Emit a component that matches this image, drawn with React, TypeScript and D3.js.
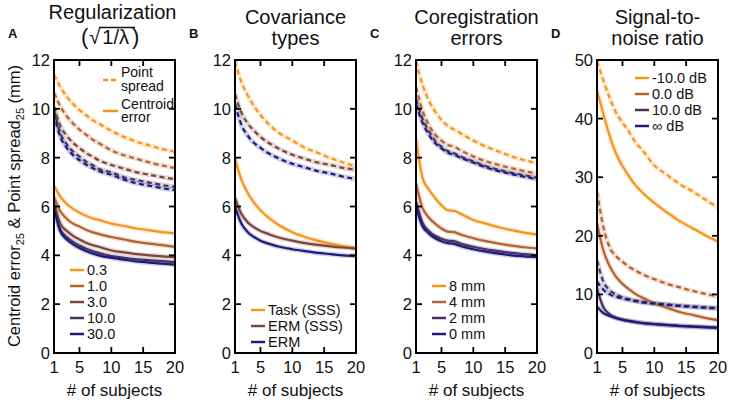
import React from "react";
import * as d3 from "d3";

// number of subjects (x positions of the readings)
const N = [1, 2, 3, 4, 5, 6, 7, 8, 10, 12, 14, 16, 18, 20];
const X_TICKS = [1, 5, 10, 15, 20];

// Panel A: Regularization
const regLabels = ["0.3", "1.0", "3.0", "10.0", "30.0"];
const regPS_03 = [11.4, 10.9, 10.5, 10.2, 9.95, 9.75, 9.55, 9.4, 9.1, 8.85, 8.65, 8.5, 8.35, 8.25];
const regPS_1 = [10.65, 10.1, 9.7, 9.4, 9.15, 8.95, 8.75, 8.6, 8.3, 8.1, 7.95, 7.8, 7.68, 7.58];
const regPS_3 = [10.1, 9.3, 8.9, 8.6, 8.4, 8.2, 8.05, 7.9, 7.7, 7.55, 7.4, 7.3, 7.2, 7.12];
const regPS_10 = [9.95, 9.0, 8.55, 8.25, 8.05, 7.85, 7.7, 7.55, 7.4, 7.2, 7.08, 6.98, 6.88, 6.8];
const regPS_30 = [9.8, 8.85, 8.4, 8.1, 7.9, 7.72, 7.58, 7.45, 7.3, 7.1, 6.95, 6.85, 6.75, 6.67];
const regCE_03 = [6.85, 6.4, 6.1, 5.9, 5.75, 5.62, 5.52, 5.45, 5.3, 5.2, 5.1, 5.02, 4.95, 4.9];
const regCE_1 = [6.4, 5.8, 5.5, 5.3, 5.18, 5.05, 4.95, 4.88, 4.75, 4.65, 4.55, 4.48, 4.42, 4.35];
const regCE_3 = [6.15, 5.3, 5.0, 4.8, 4.65, 4.52, 4.42, 4.35, 4.2, 4.12, 4.05, 4.0, 3.96, 3.93];
const regCE_10 = [6.0, 5.05, 4.75, 4.55, 4.4, 4.28, 4.18, 4.1, 3.97, 3.9, 3.84, 3.8, 3.76, 3.72];
const regCE_30 = [5.95, 4.98, 4.65, 4.45, 4.3, 4.18, 4.08, 4.0, 3.9, 3.82, 3.75, 3.7, 3.66, 3.62];

// Panel B: Covariance types
const covLabels = ["Task (SSS)", "ERM (SSS)", "ERM"];
const covPS_task = [11.95, 11.1, 10.55, 10.1, 9.75, 9.45, 9.2, 9.0, 8.7, 8.4, 8.2, 7.98, 7.8, 7.65];
const covPS_ermsss = [10.6, 9.85, 9.4, 9.1, 8.85, 8.65, 8.5, 8.35, 8.12, 7.95, 7.8, 7.7, 7.58, 7.5];
const covPS_erm = [10.2, 9.35, 8.9, 8.6, 8.4, 8.22, 8.08, 7.95, 7.75, 7.6, 7.45, 7.35, 7.22, 7.12];
const covCE_task = [7.95, 7.1, 6.55, 6.15, 5.85, 5.6, 5.4, 5.22, 4.95, 4.75, 4.6, 4.48, 4.38, 4.3];
const covCE_ermsss = [6.35, 5.7, 5.35, 5.15, 5.0, 4.9, 4.8, 4.72, 4.6, 4.5, 4.43, 4.37, 4.32, 4.28];
const covCE_erm = [6.0, 5.3, 4.95, 4.75, 4.6, 4.5, 4.42, 4.35, 4.25, 4.17, 4.1, 4.05, 4.0, 3.97];

// Panel C: Coregistration errors
const coregLabels = ["8 mm", "4 mm", "2 mm", "0 mm"];
const coregPS_8 = [11.95, 11.0, 10.35, 9.9, 9.55, 9.3, 9.15, 9.0, 8.7, 8.45, 8.25, 8.05, 7.9, 7.78];
const coregPS_4 = [10.9, 9.95, 9.35, 8.95, 8.7, 8.52, 8.45, 8.3, 8.05, 7.85, 7.7, 7.57, 7.45, 7.35];
const coregPS_2 = [10.4, 9.6, 9.1, 8.7, 8.45, 8.27, 8.18, 8.05, 7.85, 7.65, 7.5, 7.38, 7.28, 7.18];
const coregPS_0 = [10.2, 9.45, 8.95, 8.6, 8.38, 8.2, 8.12, 8.0, 7.8, 7.6, 7.45, 7.33, 7.22, 7.12];
const coregCE_8 = [8.8, 7.2, 6.7, 6.35, 6.05, 5.85, 5.82, 5.7, 5.45, 5.3, 5.15, 5.03, 4.93, 4.85];
const coregCE_4 = [6.95, 5.95, 5.55, 5.3, 5.1, 4.97, 4.95, 4.85, 4.7, 4.58, 4.48, 4.4, 4.33, 4.28];
const coregCE_2 = [6.2, 5.35, 5.0, 4.8, 4.68, 4.6, 4.58, 4.48, 4.35, 4.25, 4.17, 4.1, 4.05, 4.0];
const coregCE_0 = [6.0, 5.2, 4.9, 4.7, 4.58, 4.5, 4.47, 4.38, 4.25, 4.15, 4.07, 4.0, 3.96, 3.93];

// Panel D: Signal-to-noise ratio
const snrLabels = ["-10.0 dB", "0.0 dB", "10.0 dB", "\u221e dB"];
const snrPS_m10 = [49.8, 46.5, 43.5, 41.0, 39.3, 37.8, 36.0, 34.8, 32.0, 30.4, 28.8, 27.6, 26.2, 24.8];
const snrPS_0 = [27.5, 21.5, 18.0, 16.5, 15.6, 14.7, 14.1, 13.5, 12.6, 11.8, 11.2, 10.6, 10.1, 9.6];
const snrPS_10 = [15.8, 12.2, 10.7, 10.0, 9.5, 9.2, 8.95, 8.75, 8.5, 8.3, 8.1, 7.95, 7.8, 7.7];
const snrPS_inf = [12.2, 10.8, 10.0, 9.6, 9.3, 9.05, 8.85, 8.65, 8.4, 8.2, 8.0, 7.85, 7.72, 7.6];
const snrCE_m10 = [44.8, 40.8, 37.0, 34.0, 31.9, 30.2, 28.7, 27.5, 25.6, 24.0, 22.5, 21.3, 20.1, 19.0];
const snrCE_0 = [22.2, 17.5, 14.8, 13.0, 11.8, 10.9, 10.1, 9.5, 8.5, 7.7, 7.0, 6.5, 6.0, 5.6];
const snrCE_10 = [11.0, 7.8, 6.6, 6.0, 5.7, 5.5, 5.3, 5.15, 4.95, 4.8, 4.65, 4.55, 4.45, 4.35];
const snrCE_inf = [7.9, 6.8, 6.3, 5.95, 5.65, 5.45, 5.28, 5.12, 4.92, 4.75, 4.6, 4.48, 4.38, 4.28];

const ORANGE = "#f7941e";
const RUST = "#b5622d";
const BROWN = "#7b4639";
const PURPLE = "#4d2f5e";
const NAVY = "#1b1a7e";

const FONT = "'Liberation Sans', Arial, Helvetica, sans-serif";
const TOP = 60;
const BOT = 353;
const PW = 121;

type Series = { color: string; ps: number[]; ce: number[] };
type PanelDef = {
  left: number;
  letter: string;
  title: string[];
  yMax: number;
  yTicks: number[];
  series: Series[];
  labels: string[];
  legendX: number;
  legendY: number;
};

const panels: PanelDef[] = [
  {
    left: 54, letter: "A", title: ["Regularization"], yMax: 12, yTicks: [0, 2, 4, 6, 8, 10, 12],
    series: [
      { color: ORANGE, ps: regPS_03, ce: regCE_03 },
      { color: RUST, ps: regPS_1, ce: regCE_1 },
      { color: BROWN, ps: regPS_3, ce: regCE_3 },
      { color: PURPLE, ps: regPS_10, ce: regCE_10 },
      { color: NAVY, ps: regPS_30, ce: regCE_30 },
    ],
    labels: regLabels, legendX: 70, legendY: 270,
  },
  {
    left: 235, letter: "B", title: ["Covariance", "types"], yMax: 12, yTicks: [0, 2, 4, 6, 8, 10, 12],
    series: [
      { color: ORANGE, ps: covPS_task, ce: covCE_task },
      { color: BROWN, ps: covPS_ermsss, ce: covCE_ermsss },
      { color: NAVY, ps: covPS_erm, ce: covCE_erm },
    ],
    labels: covLabels, legendX: 251, legendY: 310,
  },
  {
    left: 416, letter: "C", title: ["Coregistration", "errors"], yMax: 12, yTicks: [0, 2, 4, 6, 8, 10, 12],
    series: [
      { color: ORANGE, ps: coregPS_8, ce: coregCE_8 },
      { color: RUST, ps: coregPS_4, ce: coregCE_4 },
      { color: PURPLE, ps: coregPS_2, ce: coregCE_2 },
      { color: NAVY, ps: coregPS_0, ce: coregCE_0 },
    ],
    labels: coregLabels, legendX: 432, legendY: 286,
  },
  {
    left: 597, letter: "D", title: ["Signal-to-", "noise ratio"], yMax: 50, yTicks: [0, 10, 20, 30, 40, 50],
    series: [
      { color: ORANGE, ps: snrPS_m10, ce: snrCE_m10 },
      { color: RUST, ps: snrPS_0, ce: snrCE_0 },
      { color: PURPLE, ps: snrPS_10, ce: snrCE_10 },
      { color: NAVY, ps: snrPS_inf, ce: snrCE_inf },
    ],
    labels: snrLabels, legendX: 635, legendY: 78,
  },
];

function Panel({ p, idx }: { p: PanelDef; idx: number }) {
  const x = d3.scaleLinear().domain([1, 20]).range([p.left, p.left + PW]);
  const y = d3.scaleLinear().domain([0, p.yMax]).range([BOT, TOP]);
  const line = d3
    .line<number>()
    .x((_, i) => x(N[i]))
    .y((v) => y(v))
    .curve(d3.curveMonotoneX);
  const clipId = `clip${idx}`;
  const right = p.left + PW;
  const cx = p.left + PW / 2;
  const tl = 6;
  return (
    <g>
      <defs>
        <clipPath id={clipId}>
          <rect x={p.left} y={TOP} width={PW} height={BOT - TOP} />
        </clipPath>
      </defs>
      {/* title */}
      {idx === 0 ? (
        <g fontFamily={FONT} fontSize={20} fill="#111">
          <text x={cx - 2} y={19} textAnchor="middle">Regularization</text>
          <text x={81} y={44}>
            <tspan fontSize={22}>(</tspan>
            <tspan dx={1}>√</tspan>
            <tspan dx={2}>1/λ</tspan>
            <tspan dx={3} fontSize={22}>)</tspan>
          </text>
          <line x1={99} x2={135} y1={27.5} y2={27.5} stroke="#111" strokeWidth={1.3} />
        </g>
      ) : (
        <g fontFamily={FONT} fontSize={20} fill="#111" textAnchor="middle">
          <text x={cx} y={24}>{p.title[0]}</text>
          <text x={cx} y={45}>{p.title[1]}</text>
        </g>
      )}
      <text x={p.left - 46} y={38} fontFamily={FONT} fontWeight="bold" fontSize={13} fill="#111">
        {p.letter}
      </text>
      {/* series */}
      <g clipPath={`url(#${clipId})`} fill="none">
        {p.series.map((s, i) => (
          <g key={"b" + i}>
            <path d={line(s.ps) || ""} stroke={s.color} strokeOpacity={0.2} strokeWidth={5} />
            <path d={line(s.ce) || ""} stroke={s.color} strokeOpacity={0.2} strokeWidth={5} />
          </g>
        ))}
        {p.series.map((s, i) => (
          <g key={"l" + i}>
            <path d={line(s.ps) || ""} stroke={s.color} strokeWidth={2.2} strokeDasharray="5,3.5" />
            <path d={line(s.ce) || ""} stroke={s.color} strokeWidth={2.2} />
          </g>
        ))}
      </g>
      {/* frame */}
      <rect x={p.left} y={TOP} width={PW} height={BOT - TOP} fill="none" stroke="#000" strokeWidth={2} />
      {/* y ticks */}
      {p.yTicks.map((t) => (
        <g key={"y" + t}>
          <line x1={p.left} x2={p.left + tl} y1={y(t)} y2={y(t)} stroke="#000" strokeWidth={1.8} />
          <line x1={right - tl} x2={right} y1={y(t)} y2={y(t)} stroke="#000" strokeWidth={1.8} />
          <text x={p.left - 4} y={y(t) + 6} textAnchor="end" fontFamily={FONT} fontSize={16.5} fill="#111">
            {t}
          </text>
        </g>
      ))}
      {/* x ticks */}
      {X_TICKS.map((t) => (
        <g key={"x" + t}>
          <line x1={x(t)} x2={x(t)} y1={BOT} y2={BOT - tl} stroke="#000" strokeWidth={1.8} />
          <line x1={x(t)} x2={x(t)} y1={TOP} y2={TOP + tl} stroke="#000" strokeWidth={1.8} />
          <text x={x(t)} y={373} textAnchor="middle" fontFamily={FONT} fontSize={16.5} fill="#111">
            {t}
          </text>
        </g>
      ))}
      <text x={cx} y={396} textAnchor="middle" fontFamily={FONT} fontSize={17} fill="#111">
        # of subjects
      </text>
      {/* legend */}
      <g fontFamily={FONT} fontSize={14.5} fill="#111">
        {p.labels.map((lab, i) => {
          const ly = p.legendY + i * 16;
          return (
            <g key={"lg" + i}>
              <line x1={p.legendX} x2={p.legendX + 14} y1={ly} y2={ly} stroke={p.series[i].color} strokeWidth={2.5} />
              <text x={p.legendX + 17} y={ly + 5}>{lab}</text>
            </g>
          );
        })}
      </g>
    </g>
  );
}

export default function App() {
  return (
    <svg width={729} height={403} style={{ display: "block", position: "absolute", left: 0, top: 0, background: "#fff" }}>
      <rect width={729} height={403} fill="#fff" />
      {panels.map((p, i) => (
        <Panel key={i} p={p} idx={i} />
      ))}
      {/* Panel A style legend */}
      <g fontFamily={FONT} fontSize={14} fill="#111">
        <line x1={103} x2={118} y1={80} y2={80} stroke={ORANGE} strokeWidth={2.5} strokeDasharray="5,3" />
        <text x={121} y={77}>
          Point
          <tspan x={121} dy={14}>spread</tspan>
        </text>
        <line x1={103} x2={118} y1={111} y2={111} stroke={ORANGE} strokeWidth={2.5} />
        <text x={121} y={109}>
          Centroid
          <tspan x={121} dy={13}>error</tspan>
        </text>
      </g>
      <text
        transform="translate(20,206) rotate(-90)"
        textAnchor="middle"
        fontFamily={FONT}
        fontSize={16.5}
        fill="#111"
      >
        Centroid error<tspan fontSize={11} dy={4}>25</tspan>
        <tspan dy={-4}> &amp; Point spread</tspan>
        <tspan fontSize={11} dy={4}>25</tspan>
        <tspan dy={-4}> (mm)</tspan>
      </text>
    </svg>
  );
}
